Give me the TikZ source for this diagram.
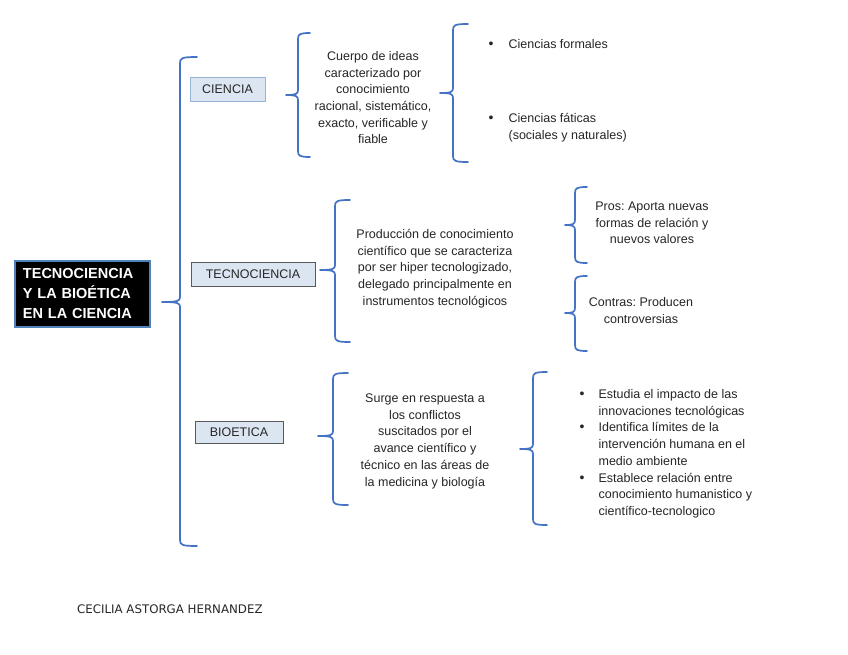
\documentclass[tikz,border=0pt]{standalone}
\usepackage{fontspec}
\setmainfont{Liberation Sans}
\newfontfamily\footfont{DejaVu Sans}
\frenchspacing
\definecolor{braceblue}{HTML}{4472C4}
\definecolor{boxfill}{HTML}{DCE6F2}
\definecolor{boxline}{HTML}{95B3D7}
\definecolor{mainline}{HTML}{4F81BD}
\newcommand{\mybrace}[6]{% x, top, bottom, middle, right tip, left tip
  \draw[bracestyle] (#1+#5,#2) .. controls (#1+2,#2) and (#1,#2+1) .. (#1,#2+6)
    -- (#1,#4-5) .. controls (#1,#4-1) and (#1-2,#4) .. (#1-#6,#4)
    .. controls (#1-2,#4) and (#1,#4+1) .. (#1,#4+5)
    -- (#1,#3-6) .. controls (#1,#3-1) and (#1+2,#3) .. (#1+#5,#3);
}
\newcommand{\mybullet}{{\fontsize{14}{14}\selectfont\textbullet}}
\tikzset{
  bracestyle/.style={draw=braceblue, line width=1.7pt, line join=round, line cap=round},
  txt/.style={inner sep=0pt, font=\fontsize{12.5}{16.7}\selectfont, text=black!85},
  labelbox/.style={draw, fill=boxfill, line width=0.8pt, inner sep=0pt,
    font=\fontsize{12.5}{15}\selectfont, text=black!85},
}
\begin{document}
\begin{tikzpicture}[x=1pt,y=-1pt]
\useasboundingbox (0,0) rectangle (848,655);
\fill[white] (0,0) rectangle (848,655);

% main box
\node[draw=mainline, fill=black, line width=1.5pt, minimum width=135pt, minimum height=66pt,
  text width=119pt, inner xsep=8pt, align=left, text=white,
  font=\fontsize{14.5}{20}\selectfont\bfseries] (main) at (82.5,294)
  {TECNOCIENCIA\\Y LA BIOÉTICA\\EN LA CIENCIA};

% category boxes
\node[labelbox, draw=boxline, minimum width=75pt, minimum height=24pt] (ciencia) at (227.5,89) {CIENCIA};
\node[labelbox, draw=black!65, minimum width=124pt, minimum height=24pt] (tecno) at (253,274) {TECNOCIENCIA};
\node[labelbox, draw=black!65, minimum width=88pt, minimum height=22pt] (bio) at (239,432) {BIOETICA};

% braces
\mybrace{180}{57}{546}{302}{17}{18}
\mybrace{298}{33}{157}{95}{12}{12}
\mybrace{453}{24}{162}{93}{15}{13}
\mybrace{335}{200}{342}{270}{15}{15}
\mybrace{575}{187}{263}{225}{12}{10}
\mybrace{575}{276}{351}{313}{12}{10}
\mybrace{333}{373}{505}{436}{15}{15}
\mybrace{533}{372}{525}{449}{14}{13}

% texts
\node[txt, anchor=base] (cuerpo) at (373,60.5) {\begin{tabular}[t]{@{}c@{}}
Cuerpo de ideas\\caracterizado por\\conocimiento\\racional, sistemático,\\exacto, verificable y\\fiable\end{tabular}};

\node[txt, anchor=base west] (formales) at (488.5,48.5) {\begin{tabular}[t]{@{}l@{\hspace{15pt}}l@{}}
\mybullet & Ciencias formales\end{tabular}};
\node[txt, anchor=base west] (faticas) at (488.5,122.5) {\begin{tabular}[t]{@{}l@{\hspace{15pt}}l@{}}
\mybullet & Ciencias fáticas\\ & (sociales y naturales)\end{tabular}};

\node[txt, anchor=base] (prod) at (435,238.5) {\begin{tabular}[t]{@{}c@{}}
Producción de conocimiento\\científico que se caracteriza\\por ser hiper tecnologizado,\\delegado principalmente en\\instrumentos tecnológicos\end{tabular}};

\node[txt, anchor=base] (pros) at (652,210.5) {\begin{tabular}[t]{@{}c@{}}
Pros: Aporta nuevas\\formas de relación y\\nuevos valores\end{tabular}};
\node[txt, anchor=base] (contras) at (641,306.5) {\begin{tabular}[t]{@{}c@{}}
Contras: Producen\\controversias\end{tabular}};

\node[txt, anchor=base] (surge) at (425,402.5) {\begin{tabular}[t]{@{}c@{}}
Surge en respuesta a\\los conflictos\\suscitados por el\\avance científico y\\técnico en las áreas de\\la medicina y biología\end{tabular}};

\node[txt, anchor=base west] (lista) at (579.5,398.5) {\begin{tabular}[t]{@{}l@{\hspace{14pt}}l@{}}
\mybullet & Estudia el impacto de las\\ & innovaciones tecnológicas\\
\mybullet & Identifica límites de la\\ & intervención humana en el\\ & medio ambiente\\
\mybullet & Establece relación entre\\ & conocimiento humanistico y\\ & científico-tecnologico\end{tabular}};

\node[inner sep=0pt, anchor=base west, font=\footfont\fontsize{11.8}{13}\selectfont, text=black!85] (autor) at (77,613) {CECILIA ASTORGA HERNANDEZ};
\end{tikzpicture}
\end{document}
